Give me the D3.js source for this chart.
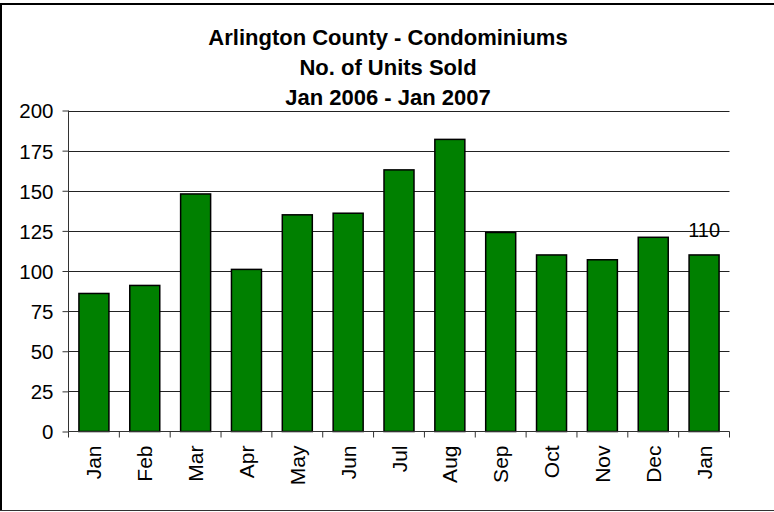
<!DOCTYPE html>
<html>
<head>
<meta charset="utf-8">
<script src="https://cdn.jsdelivr.net/npm/d3@7"></script>
<style>
  html, body { margin: 0; padding: 0; background: #fff; }
  svg { display: block; }
  text { font-family: Arial, "Liberation Sans", sans-serif; fill: #000; }
</style>
</head>
<body>
<svg id="chart" width="774" height="512"></svg>
<script>
const months = ["Jan","Feb","Mar","Apr","May","Jun","Jul","Aug","Sep","Oct","Nov","Dec","Jan"];
const unitsSold = [86, 91, 148, 101, 135, 136, 163, 182, 124, 110, 107, 121, 110];
const yTicks = [0, 25, 50, 75, 100, 125, 150, 175, 200];
const titleLines = ["Arlington County - Condominiums", "No. of Units Sold", "Jan 2006 - Jan 2007"];
const labelledIndex = 12;

const svg = d3.select("#chart");
const W = 774, H = 512;
const plot = { left: 68.5, right: 729.5, top: 110.5, bottom: 431.5 };

// frame
svg.append("line").attr("x1", 1).attr("x2", 1).attr("y1", 4).attr("y2", 511).attr("stroke", "#000").attr("stroke-width", 2);
svg.append("line").attr("x1", 0).attr("x2", W).attr("y1", 4).attr("y2", 4).attr("stroke", "#000").attr("stroke-width", 2);
svg.append("line").attr("x1", 0).attr("x2", W).attr("y1", 510.5).attr("y2", 510.5).attr("stroke", "#333").attr("stroke-width", 1);

const x = d3.scaleBand().domain(d3.range(months.length)).range([plot.left, plot.right]).paddingInner(0.41).paddingOuter(0.205);
const y = d3.scaleLinear().domain([0, 200]).range([plot.bottom, plot.top]);

// gridlines
svg.append("g").selectAll("line").data(yTicks.filter(d => d > 0)).join("line")
  .attr("x1", plot.left).attr("x2", plot.right)
  .attr("y1", d => Math.round(y(d)) + 0.5).attr("y2", d => Math.round(y(d)) + 0.5)
  .attr("stroke", "#222").attr("stroke-width", 1);

// bars
svg.append("g").selectAll("rect").data(unitsSold).join("rect")
  .attr("x", (d, i) => x(i)).attr("width", x.bandwidth())
  .attr("y", d => y(d)).attr("height", d => y(0) - y(d))
  .attr("fill", "#008000").attr("stroke", "#000").attr("stroke-width", 1.5);

// y axis
const yAxis = d3.axisLeft(y).tickValues(yTicks).tickSize(6).tickPadding(9);
const gy = svg.append("g").attr("transform", `translate(${plot.left},0)`).call(yAxis);
gy.select(".domain").attr("stroke", "#333").attr("d", `M0,${plot.top}V${plot.bottom}`);
gy.selectAll(".tick line").attr("stroke", "#333");
gy.selectAll(".tick text").attr("font-size", 20.5).attr("font-family", "Arial, 'Liberation Sans', sans-serif").attr("dy", "0.36em");

// x axis
const xEdge = d3.scaleLinear().domain([0, months.length]).range([plot.left, plot.right]);
const gx = svg.append("g");
gx.append("line").attr("x1", plot.left).attr("x2", plot.right).attr("y1", plot.bottom).attr("y2", plot.bottom).attr("stroke", "#333");
gx.selectAll("line.tk").data(d3.range(months.length + 1)).join("line").attr("class", "tk")
  .attr("x1", d => xEdge(d)).attr("x2", d => xEdge(d)).attr("y1", plot.bottom).attr("y2", plot.bottom + 6).attr("stroke", "#333");
gx.selectAll("text").data(months).join("text")
  .attr("transform", (d, i) => `translate(${x(i) + x.bandwidth() / 2 + 7.5},${plot.bottom + 14}) rotate(-90)`)
  .attr("text-anchor", "end").attr("font-size", 21).text(d => d);

// data label
svg.append("text").attr("x", x(labelledIndex) + x.bandwidth() / 2).attr("y", y(unitsSold[labelledIndex]) - 18)
  .attr("text-anchor", "middle").attr("font-size", 20).text(unitsSold[labelledIndex]);

// title
svg.append("g").selectAll("text").data(titleLines).join("text")
  .attr("x", 388).attr("y", (d, i) => 45 + i * 30)
  .attr("text-anchor", "middle").attr("font-size", 22).attr("font-weight", "bold").text(d => d);
</script>
</body>
</html>
